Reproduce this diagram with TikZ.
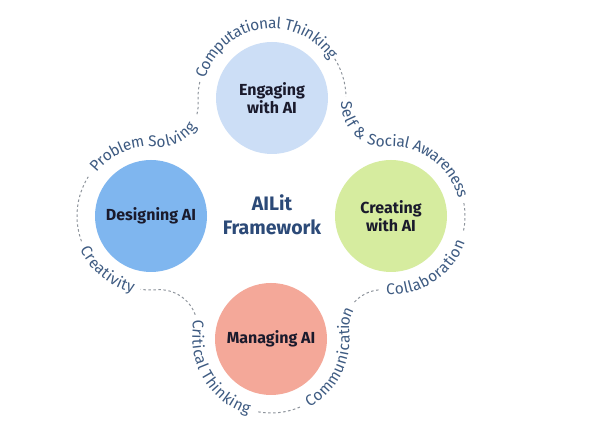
\documentclass[tikz,border=0pt]{standalone}
\usepackage{fontspec}
\setmainfont{Fira Sans}
\usetikzlibrary{decorations.text}
\definecolor{engcol}{HTML}{CCDEF6}
\definecolor{descol}{HTML}{7FB6EF}
\definecolor{crecol}{HTML}{D6EC9F}
\definecolor{mancol}{HTML}{F4A899}
\definecolor{lblcol}{HTML}{3E5B82}
\definecolor{cencol}{HTML}{2C4A78}
\definecolor{txtcol}{HTML}{1A1A2C}
\definecolor{dashcol}{HTML}{8E949C}
\newcommand{\lblfmt}{\fontsize{15.5pt}{15.5pt}\selectfont}
\tikzset{
  arclabel/.style={decorate, decoration={text along path, text={|\lblfmt|#1}, text align=center, raise=-4.6pt, text color=lblcol}},
  dashline/.style={draw=dashcol, line width=1pt, dash pattern=on 2.5pt off 2.5pt},
  bubble/.style={circle, minimum size=112pt, inner sep=0pt, font=\fontsize{16pt}{17.5pt}\selectfont\bfseries, text=txtcol, align=center},
  centertext/.style={font=\fontsize{19.5pt}{23.5pt}\selectfont\bfseries, text=cencol, align=center, inner sep=0pt}
}
\begin{document}
\begin{tikzpicture}[x=1pt,y=1pt]
\useasboundingbox (0,0) rectangle (590,430);
\fill[white] (0,0) rectangle (590,430);
\coordinate (T) at (272,332);
\coordinate (L) at (151,214);
\coordinate (R) at (391,214);
\coordinate (B) at (271,91);
\coordinate (P1) at (383.8,325.8);
\coordinate (P2) at (382.5,102.3);
\coordinate (P3) at (159.5,102.3);
\coordinate (P4) at (160.2,325.6);

\node[bubble, fill=engcol] (eng) at (T) {Engaging\\with AI};
\node[bubble, fill=descol] (des) at (L) {Designing AI};
\node[bubble, fill=crecol] (cre) at (R) {Creating\\with AI};
\node[bubble, fill=mancol] (man) at (B) {Managing AI};
\node[centertext] (fw) at (272,215) {AILit\\Framework};

% dashed pieces
\draw[dashline] ([shift={(-15:38pt)}]P4) arc[start angle=-15, end angle=3.28, radius=38pt] arc[start angle=183.28, end angle=166, radius=74pt];
\draw[dashline] ([shift={(32:74pt)}]T) arc[start angle=32, end angle=1, radius=74pt];
\draw[dashline] ([shift={(10:74pt)}]R) arc[start angle=10, end angle=-12, radius=74pt];
\draw[dashline] ([shift={(96:38pt)}]P2) arc[start angle=96, end angle=138, radius=38pt];
\draw[dashline] ([shift={(-67:74pt)}]B) arc[start angle=-67, end angle=-101, radius=74pt];
\draw[dashline] ([shift={(20:38pt)}]P3) arc[start angle=20, end angle=94.35, radius=38pt] arc[start angle=-85.65, end angle=-98, radius=74pt];
\draw[dashline] ([shift={(-160:74pt)}]L) arc[start angle=-160, end angle=-212, radius=74pt];

% labels along the path
\path[arclabel={Problem Solving}] ([shift={(154.3:74pt)}]L) arc[start angle=154.3, end angle=85.29, radius=74pt] arc[start angle=-94.71, end angle=-5.9, radius=38pt];
\path[arclabel={Computational Thinking}] ([shift={(170.3:74pt)}]T) arc[start angle=170.3, end angle=26.7, radius=74pt];
\path[arclabel={Self {\&} Social Awareness}] ([shift={(8.3:74pt)}]T) arc[start angle=8.3, end angle=-3.17, radius=74pt] arc[start angle=176.83, end angle=273.7, radius=38pt] arc[start angle=93.7, end angle=3.7, radius=74pt];
\path[arclabel={Collaboration}] ([shift={(111.1:38pt)}]P2) arc[start angle=111.1, end angle=85.65, radius=38pt] arc[start angle=-94.35, end angle=-5.7, radius=74pt];
\path[arclabel={Communication}] ([shift={(-73.3:74pt)}]B) arc[start angle=-73.3, end angle=5.79, radius=74pt] arc[start angle=185.79, end angle=124.9, radius=38pt];
\path[arclabel={Critical Thinking}] ([shift={(34.1:38pt)}]P3) arc[start angle=34.1, end angle=-5.79, radius=38pt] arc[start angle=174.21, end angle=265.3, radius=74pt];
\path[arclabel={Creativity}] ([shift={(-166.3:74pt)}]L) arc[start angle=-166.3, end angle=-91.7, radius=74pt];
\end{tikzpicture}
\end{document}
